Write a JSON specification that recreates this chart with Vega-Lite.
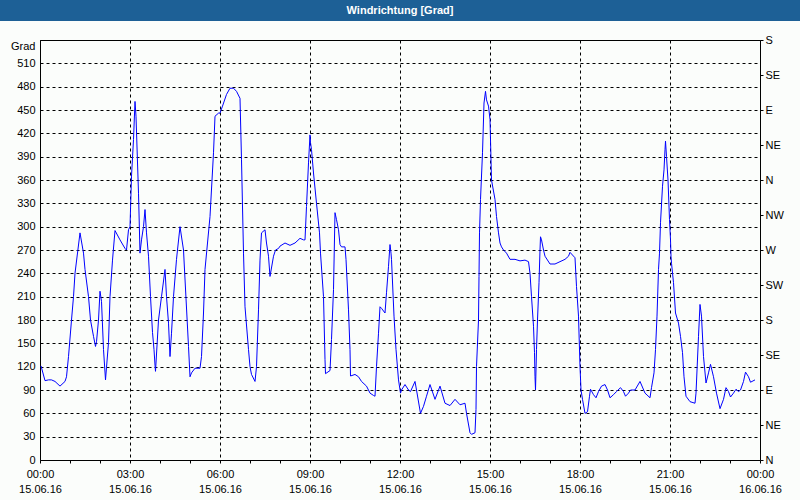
{
  "$schema": "https://vega.github.io/schema/vega-lite/v6.json",
  "background": "#fbfdfb",
  "padding": {"left": 0, "top": 0, "right": 0, "bottom": 5},
  "bounds": "flush",
  "center": true,
  "spacing": 19,
  "config": {
    "axis": {"labelFont": "Liberation Sans", "labelFontSize": 11, "labelColor": "black", "domainColor": "black", "tickColor": "black", "gridColor": "black", "gridDash": [3, 3], "gridWidth": 1}
  },
  "vconcat": [
    {
      "width": 800,
      "height": 21,
      "view": {"fill": "#1d6096", "stroke": null},
      "data": {"values": [{"label": "Windrichtung [Grad]"}]},
      "mark": {"type": "text", "color": "white", "font": "Liberation Sans", "fontSize": 11, "fontWeight": "bold"},
      "encoding": {"text": {"field": "label"}}
    },
    {
      "width": 720,
      "height": 420,
      "view": {"stroke": "black", "fill": null},
      "data": {"values": [
        {"t":"2016-06-15T00:02","v":121},{"t":"2016-06-15T00:10","v":102},{"t":"2016-06-15T00:17","v":103},{"t":"2016-06-15T00:23","v":103},{"t":"2016-06-15T00:30","v":101},{"t":"2016-06-15T00:40","v":95},{"t":"2016-06-15T00:50","v":101},{"t":"2016-06-15T00:53","v":107},{"t":"2016-06-15T00:57","v":133},
        {"t":"2016-06-15T01:03","v":180},{"t":"2016-06-15T01:07","v":210},{"t":"2016-06-15T01:10","v":240},{"t":"2016-06-15T01:20","v":292},{"t":"2016-06-15T01:27","v":266},{"t":"2016-06-15T01:30","v":245},{"t":"2016-06-15T01:37","v":210},{"t":"2016-06-15T01:41","v":180},{"t":"2016-06-15T01:47","v":159},{"t":"2016-06-15T01:51","v":146},{"t":"2016-06-15T01:53","v":152},{"t":"2016-06-15T01:57","v":180},
        {"t":"2016-06-15T02:00","v":217},{"t":"2016-06-15T02:03","v":204},{"t":"2016-06-15T02:07","v":142},{"t":"2016-06-15T02:11","v":103},{"t":"2016-06-15T02:13","v":119},{"t":"2016-06-15T02:17","v":151},{"t":"2016-06-15T02:20","v":210},{"t":"2016-06-15T02:25","v":257},{"t":"2016-06-15T02:30","v":295},{"t":"2016-06-15T02:40","v":283},{"t":"2016-06-15T02:50","v":272},{"t":"2016-06-15T02:53","v":270},{"t":"2016-06-15T02:57","v":296},
        {"t":"2016-06-15T03:00","v":300},{"t":"2016-06-15T03:03","v":365},{"t":"2016-06-15T03:07","v":412},{"t":"2016-06-15T03:10","v":461},{"t":"2016-06-15T03:12","v":442},{"t":"2016-06-15T03:17","v":343},{"t":"2016-06-15T03:20","v":266},{"t":"2016-06-15T03:23","v":283},{"t":"2016-06-15T03:27","v":300},{"t":"2016-06-15T03:30","v":322},{"t":"2016-06-15T03:33","v":292},{"t":"2016-06-15T03:37","v":262},{"t":"2016-06-15T03:41","v":210},{"t":"2016-06-15T03:45","v":164},{"t":"2016-06-15T03:48","v":142},{"t":"2016-06-15T03:50","v":122},{"t":"2016-06-15T03:51","v":114},{"t":"2016-06-15T03:57","v":180},
        {"t":"2016-06-15T04:03","v":210},{"t":"2016-06-15T04:10","v":245},{"t":"2016-06-15T04:13","v":210},{"t":"2016-06-15T04:17","v":176},{"t":"2016-06-15T04:20","v":133},{"t":"2016-06-15T04:23","v":163},{"t":"2016-06-15T04:27","v":210},{"t":"2016-06-15T04:33","v":258},{"t":"2016-06-15T04:40","v":300},{"t":"2016-06-15T04:47","v":270},{"t":"2016-06-15T04:57","v":146},
        {"t":"2016-06-15T05:00","v":107},{"t":"2016-06-15T05:03","v":112},{"t":"2016-06-15T05:10","v":118},{"t":"2016-06-15T05:20","v":118},{"t":"2016-06-15T05:23","v":133},{"t":"2016-06-15T05:27","v":189},{"t":"2016-06-15T05:30","v":245},{"t":"2016-06-15T05:40","v":313},{"t":"2016-06-15T05:47","v":395},{"t":"2016-06-15T05:50","v":442},{"t":"2016-06-15T05:57","v":446},
        {"t":"2016-06-15T06:00","v":446},{"t":"2016-06-15T06:05","v":455},{"t":"2016-06-15T06:13","v":470},{"t":"2016-06-15T06:20","v":478},{"t":"2016-06-15T06:27","v":478},{"t":"2016-06-15T06:33","v":474},{"t":"2016-06-15T06:40","v":465},{"t":"2016-06-15T06:43","v":386},{"t":"2016-06-15T06:47","v":266},{"t":"2016-06-15T06:50","v":197},{"t":"2016-06-15T06:57","v":142},
        {"t":"2016-06-15T07:00","v":120},{"t":"2016-06-15T07:03","v":110},{"t":"2016-06-15T07:10","v":101},{"t":"2016-06-15T07:13","v":120},{"t":"2016-06-15T07:17","v":193},{"t":"2016-06-15T07:20","v":257},{"t":"2016-06-15T07:23","v":292},{"t":"2016-06-15T07:30","v":296},{"t":"2016-06-15T07:33","v":279},{"t":"2016-06-15T07:37","v":262},{"t":"2016-06-15T07:40","v":236},{"t":"2016-06-15T07:47","v":262},{"t":"2016-06-15T07:51","v":270},{"t":"2016-06-15T07:57","v":272},
        {"t":"2016-06-15T08:00","v":275},{"t":"2016-06-15T08:10","v":279},{"t":"2016-06-15T08:20","v":276},{"t":"2016-06-15T08:30","v":279},{"t":"2016-06-15T08:40","v":285},{"t":"2016-06-15T08:47","v":283},{"t":"2016-06-15T08:50","v":283},{"t":"2016-06-15T08:53","v":326},{"t":"2016-06-15T08:57","v":382},
        {"t":"2016-06-15T09:00","v":418},{"t":"2016-06-15T09:01","v":408},{"t":"2016-06-15T09:03","v":399},{"t":"2016-06-15T09:07","v":369},{"t":"2016-06-15T09:13","v":330},{"t":"2016-06-15T09:19","v":292},{"t":"2016-06-15T09:21","v":266},{"t":"2016-06-15T09:27","v":210},{"t":"2016-06-15T09:30","v":129},{"t":"2016-06-15T09:31","v":111},{"t":"2016-06-15T09:40","v":115},{"t":"2016-06-15T09:43","v":155},{"t":"2016-06-15T09:47","v":219},{"t":"2016-06-15T09:50","v":318},{"t":"2016-06-15T09:53","v":309},{"t":"2016-06-15T09:57","v":296},
        {"t":"2016-06-15T10:00","v":277},{"t":"2016-06-15T10:03","v":274},{"t":"2016-06-15T10:10","v":274},{"t":"2016-06-15T10:12","v":258},{"t":"2016-06-15T10:17","v":193},{"t":"2016-06-15T10:20","v":142},{"t":"2016-06-15T10:21","v":108},{"t":"2016-06-15T10:30","v":110},{"t":"2016-06-15T10:37","v":107},{"t":"2016-06-15T10:43","v":101},{"t":"2016-06-15T10:53","v":95},
        {"t":"2016-06-15T11:00","v":86},{"t":"2016-06-15T11:07","v":83},{"t":"2016-06-15T11:10","v":82},{"t":"2016-06-15T11:13","v":120},{"t":"2016-06-15T11:17","v":163},{"t":"2016-06-15T11:20","v":197},{"t":"2016-06-15T11:23","v":195},{"t":"2016-06-15T11:30","v":189},{"t":"2016-06-15T11:33","v":215},{"t":"2016-06-15T11:37","v":249},{"t":"2016-06-15T11:40","v":277},{"t":"2016-06-15T11:42","v":266},{"t":"2016-06-15T11:43","v":258},{"t":"2016-06-15T11:48","v":185},{"t":"2016-06-15T11:52","v":142},{"t":"2016-06-15T11:57","v":103},
        {"t":"2016-06-15T12:01","v":86},{"t":"2016-06-15T12:03","v":90},{"t":"2016-06-15T12:10","v":97},{"t":"2016-06-15T12:17","v":90},{"t":"2016-06-15T12:21","v":88},{"t":"2016-06-15T12:30","v":101},{"t":"2016-06-15T12:33","v":90},{"t":"2016-06-15T12:41","v":60},{"t":"2016-06-15T12:47","v":69},{"t":"2016-06-15T12:53","v":82},
        {"t":"2016-06-15T13:00","v":97},{"t":"2016-06-15T13:10","v":78},{"t":"2016-06-15T13:20","v":95},{"t":"2016-06-15T13:30","v":73},{"t":"2016-06-15T13:40","v":70},{"t":"2016-06-15T13:50","v":78},
        {"t":"2016-06-15T14:00","v":71},{"t":"2016-06-15T14:10","v":73},{"t":"2016-06-15T14:13","v":60},{"t":"2016-06-15T14:20","v":35},{"t":"2016-06-15T14:23","v":33},{"t":"2016-06-15T14:30","v":35},{"t":"2016-06-15T14:32","v":65},{"t":"2016-06-15T14:33","v":120},{"t":"2016-06-15T14:37","v":180},{"t":"2016-06-15T14:38","v":236},{"t":"2016-06-15T14:39","v":292},{"t":"2016-06-15T14:41","v":335},{"t":"2016-06-15T14:45","v":395},{"t":"2016-06-15T14:48","v":459},{"t":"2016-06-15T14:51","v":474},{"t":"2016-06-15T14:53","v":463},{"t":"2016-06-15T14:57","v":455},
        {"t":"2016-06-15T15:00","v":438},{"t":"2016-06-15T15:03","v":360},{"t":"2016-06-15T15:10","v":335},{"t":"2016-06-15T15:13","v":313},{"t":"2016-06-15T15:17","v":292},{"t":"2016-06-15T15:20","v":279},{"t":"2016-06-15T15:23","v":274},{"t":"2016-06-15T15:27","v":270},{"t":"2016-06-15T15:33","v":266},{"t":"2016-06-15T15:40","v":258},{"t":"2016-06-15T15:50","v":258},
        {"t":"2016-06-15T16:00","v":256},{"t":"2016-06-15T16:10","v":257},{"t":"2016-06-15T16:17","v":255},{"t":"2016-06-15T16:20","v":240},{"t":"2016-06-15T16:23","v":210},{"t":"2016-06-15T16:27","v":172},{"t":"2016-06-15T16:29","v":138},{"t":"2016-06-15T16:30","v":107},{"t":"2016-06-15T16:31","v":90},{"t":"2016-06-15T16:33","v":142},{"t":"2016-06-15T16:35","v":180},{"t":"2016-06-15T16:38","v":228},{"t":"2016-06-15T16:40","v":270},{"t":"2016-06-15T16:41","v":287},{"t":"2016-06-15T16:43","v":283},{"t":"2016-06-15T16:47","v":270},{"t":"2016-06-15T16:50","v":262},
        {"t":"2016-06-15T17:00","v":252},{"t":"2016-06-15T17:10","v":252},{"t":"2016-06-15T17:20","v":255},{"t":"2016-06-15T17:30","v":258},{"t":"2016-06-15T17:37","v":262},{"t":"2016-06-15T17:40","v":267},{"t":"2016-06-15T17:50","v":260},{"t":"2016-06-15T17:53","v":223},{"t":"2016-06-15T17:57","v":185},
        {"t":"2016-06-15T18:00","v":120},{"t":"2016-06-15T18:02","v":90},{"t":"2016-06-15T18:05","v":78},{"t":"2016-06-15T18:10","v":60},{"t":"2016-06-15T18:15","v":62},{"t":"2016-06-15T18:19","v":82},{"t":"2016-06-15T18:21","v":91},{"t":"2016-06-15T18:27","v":84},{"t":"2016-06-15T18:32","v":80},{"t":"2016-06-15T18:37","v":88},{"t":"2016-06-15T18:43","v":95},{"t":"2016-06-15T18:50","v":97},{"t":"2016-06-15T18:55","v":90},
        {"t":"2016-06-15T19:00","v":80},{"t":"2016-06-15T19:07","v":84},{"t":"2016-06-15T19:13","v":88},{"t":"2016-06-15T19:21","v":93},{"t":"2016-06-15T19:27","v":88},{"t":"2016-06-15T19:31","v":82},{"t":"2016-06-15T19:37","v":86},{"t":"2016-06-15T19:41","v":90},{"t":"2016-06-15T19:50","v":90},
        {"t":"2016-06-15T20:00","v":101},{"t":"2016-06-15T20:10","v":86},{"t":"2016-06-15T20:20","v":80},{"t":"2016-06-15T20:23","v":93},{"t":"2016-06-15T20:28","v":112},{"t":"2016-06-15T20:31","v":142},{"t":"2016-06-15T20:34","v":185},{"t":"2016-06-15T20:37","v":245},{"t":"2016-06-15T20:39","v":266},{"t":"2016-06-15T20:41","v":305},{"t":"2016-06-15T20:45","v":352},{"t":"2016-06-15T20:48","v":373},{"t":"2016-06-15T20:50","v":399},{"t":"2016-06-15T20:51","v":410},{"t":"2016-06-15T20:53","v":390},{"t":"2016-06-15T20:56","v":360},{"t":"2016-06-15T20:59","v":309},
        {"t":"2016-06-15T21:01","v":283},{"t":"2016-06-15T21:02","v":262},{"t":"2016-06-15T21:03","v":253},{"t":"2016-06-15T21:07","v":228},{"t":"2016-06-15T21:11","v":189},{"t":"2016-06-15T21:17","v":176},{"t":"2016-06-15T21:21","v":159},{"t":"2016-06-15T21:25","v":138},{"t":"2016-06-15T21:28","v":107},{"t":"2016-06-15T21:32","v":82},{"t":"2016-06-15T21:40","v":75},{"t":"2016-06-15T21:50","v":73},{"t":"2016-06-15T21:52","v":86},{"t":"2016-06-15T21:57","v":159},
        {"t":"2016-06-15T22:00","v":200},{"t":"2016-06-15T22:03","v":185},{"t":"2016-06-15T22:07","v":133},{"t":"2016-06-15T22:12","v":99},{"t":"2016-06-15T22:17","v":112},{"t":"2016-06-15T22:21","v":123},{"t":"2016-06-15T22:27","v":107},{"t":"2016-06-15T22:33","v":86},{"t":"2016-06-15T22:40","v":66},{"t":"2016-06-15T22:47","v":78},{"t":"2016-06-15T22:52","v":93},{"t":"2016-06-15T22:57","v":88},
        {"t":"2016-06-15T23:01","v":81},{"t":"2016-06-15T23:07","v":86},{"t":"2016-06-15T23:12","v":91},{"t":"2016-06-15T23:17","v":88},{"t":"2016-06-15T23:21","v":90},{"t":"2016-06-15T23:27","v":101},{"t":"2016-06-15T23:31","v":113},{"t":"2016-06-15T23:37","v":107},{"t":"2016-06-15T23:41","v":100},{"t":"2016-06-15T23:50","v":103}
      ]},
      "encoding": {
        "x": {
          "field": "t", "type": "temporal", "title": null,
          "scale": {"domain": [{"year": 2016, "month": 6, "date": 15, "hours": 0}, {"year": 2016, "month": 6, "date": 16, "hours": 0}], "nice": false},
          "axis": {
            "orient": "bottom", "domain": false,
            "values": [
              {"year": 2016, "month": 6, "date": 15, "hours": 0}, {"year": 2016, "month": 6, "date": 15, "hours": 1}, {"year": 2016, "month": 6, "date": 15, "hours": 2},
              {"year": 2016, "month": 6, "date": 15, "hours": 3}, {"year": 2016, "month": 6, "date": 15, "hours": 4}, {"year": 2016, "month": 6, "date": 15, "hours": 5},
              {"year": 2016, "month": 6, "date": 15, "hours": 6}, {"year": 2016, "month": 6, "date": 15, "hours": 7}, {"year": 2016, "month": 6, "date": 15, "hours": 8},
              {"year": 2016, "month": 6, "date": 15, "hours": 9}, {"year": 2016, "month": 6, "date": 15, "hours": 10}, {"year": 2016, "month": 6, "date": 15, "hours": 11},
              {"year": 2016, "month": 6, "date": 15, "hours": 12}, {"year": 2016, "month": 6, "date": 15, "hours": 13}, {"year": 2016, "month": 6, "date": 15, "hours": 14},
              {"year": 2016, "month": 6, "date": 15, "hours": 15}, {"year": 2016, "month": 6, "date": 15, "hours": 16}, {"year": 2016, "month": 6, "date": 15, "hours": 17},
              {"year": 2016, "month": 6, "date": 15, "hours": 18}, {"year": 2016, "month": 6, "date": 15, "hours": 19}, {"year": 2016, "month": 6, "date": 15, "hours": 20},
              {"year": 2016, "month": 6, "date": 15, "hours": 21}, {"year": 2016, "month": 6, "date": 15, "hours": 22}, {"year": 2016, "month": 6, "date": 15, "hours": 23},
              {"year": 2016, "month": 6, "date": 16, "hours": 0}
            ],
            "tickSize": 3, "labelPadding": 5, "labelLineHeight": 15,
            "labelFlush": false, "labelOverlap": false, "labelBound": false,
            "labelExpr": "hours(datum.value) % 3 == 0 ? [timeFormat(datum.value, '%H:%M'), timeFormat(datum.value, '%d.%m.%y')] : ''",
            "grid": true,
            "gridOpacity": {"condition": {"test": "hours(datum.value) % 3 == 0", "value": 1}, "value": 0}
          }
        }
      },
      "layer": [
        {
          "mark": {"type": "line", "color": "#0000ff", "strokeWidth": 1},
          "encoding": {
            "y": {
              "field": "v", "type": "quantitative", "title": null,
              "scale": {"domain": [0, 540], "nice": false, "zero": true},
              "axis": {
                "orient": "left", "domain": false, "ticks": false, "labelPadding": 5,
                "values": [0, 30, 60, 90, 120, 150, 180, 210, 240, 270, 300, 330, 360, 390, 420, 450, 480, 510, 540],
                "labelExpr": "datum.value == 540 ? 'Grad' : datum.label",
                "labelBaseline": {"condition": {"test": "datum.value == 540", "value": "top"}, "value": "middle"},
                "grid": true
              }
            }
          }
        },
        {
          "mark": {"type": "line", "strokeOpacity": 0},
          "encoding": {
            "y": {
              "field": "v", "type": "quantitative", "title": null,
              "scale": {"domain": [0, 540], "nice": false, "zero": true},
              "axis": {
                "orient": "right", "domain": false, "grid": false, "tickSize": 3, "labelPadding": 2,
                "values": [0, 45, 90, 135, 180, 225, 270, 315, 360, 405, 450, 495, 540],
                "labelExpr": "['N','NE','E','SE','S','SW','W','NW','N','NE','E','SE','S'][round(datum.value / 45)]"
              }
            }
          }
        }
      ],
      "resolve": {"axis": {"y": "independent"}}
    }
  ]
}
